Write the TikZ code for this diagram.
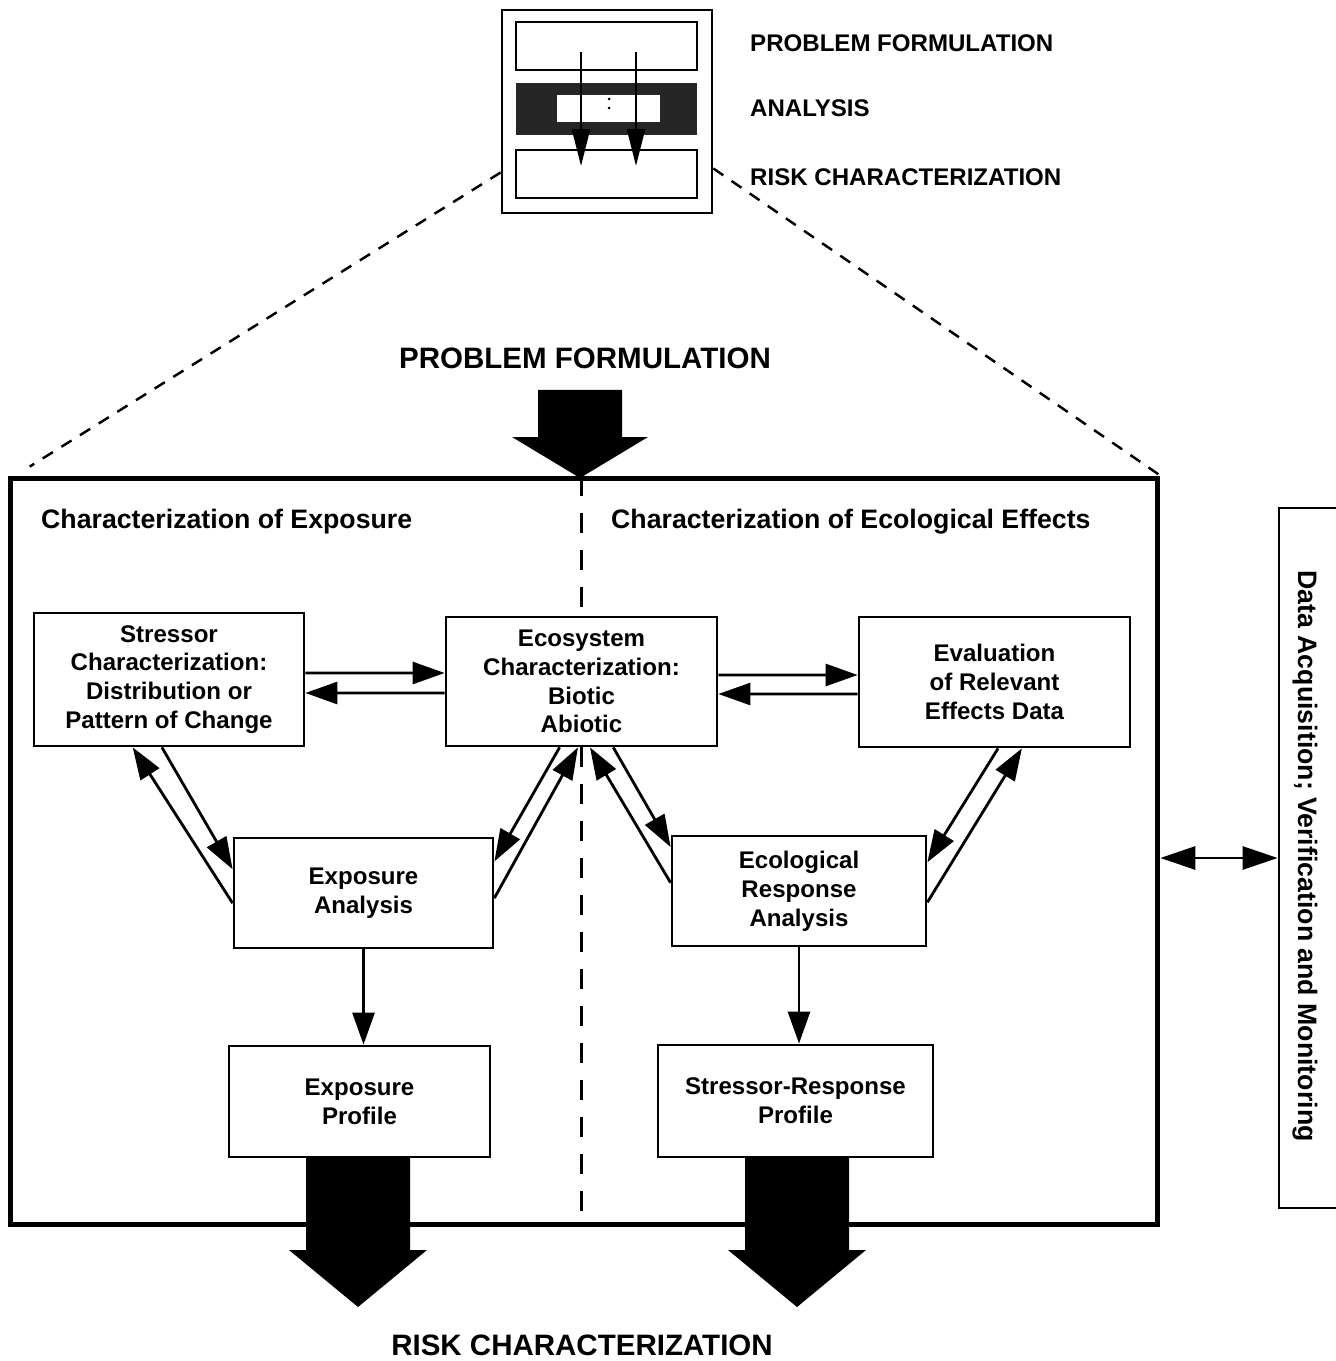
\documentclass[tikz,border=0pt]{standalone}
\usepackage{fontspec}
\setmainfont{Liberation Sans}
\usepackage{tikz}
\usetikzlibrary{calc}
\usetikzlibrary{arrows.meta}
\newcommand{\boxfont}{\fontsize{13.7}{16.4}\selectfont\bfseries}
\newcommand{\headfont}{\fontsize{15.2}{18}\selectfont\bfseries}
\newcommand{\titlefont}{\fontsize{16.8}{20}\selectfont\bfseries}
\newcommand{\procbox}[6]{\node[procbox,minimum width=#4cm,minimum height=#5cm] (#1) at (#2,#3) {#6};}
\newcommand{\bigdown}[6]{\fill (#1-#2,#4) -- (#1+#2,#4) -- (#1+#2,#5) -- (#1+#3,#5) -- (#1,#6) -- (#1-#3,#5) -- (#1-#2,#5) -- cycle;}
\tikzset{
  procbox/.style={draw,line width=1.6pt,inner sep=0pt,align=center,font=\boxfont},
  flow/.style={line width=1.6pt,-{Triangle[length=0.64cm,width=0.44cm]}},
  insetflow/.style={line width=1.5pt,-{Triangle[length=0.74cm,width=0.36cm]}},
  zoomline/.style={line width=1.4pt,dash pattern=on 0.24cm off 0.2cm},
  divider/.style={line width=1.5pt,dash pattern=on 0.4cm off 0.34cm},
}

\begin{document}
\begin{tikzpicture}[x=0.02cm,y=-0.02cm]
        \useasboundingbox (0,0) rectangle (1335,1361);

        % overview
        \node[draw,line width=1.6pt,minimum width=4.2cm,minimum height=4.06cm] (overview) at (607,111.5) {};
        \draw[line width=1.5pt] (516,22) rectangle (697,70);
        \fill[black!85] (516,83) rectangle (697,135);
        \fill[white] (557,95) rectangle (660,122);
        \draw[line width=1.5pt] (516,150) rectangle (697,198);
        \fill (609,99) circle[radius=0.03cm];
        \fill (609,108) circle[radius=0.03cm];
        \draw[insetflow] (581,52) -- (581,166);
        \draw[insetflow] (636,52) -- (636,166);

        \node[anchor=west,font=\boxfont] (pfstep) at (744,43) {PROBLEM FORMULATION};
        \node[anchor=west,font=\boxfont] (anstep) at (744,108) {ANALYSIS};
        \node[anchor=west,font=\boxfont] (rcstep) at (744,177) {RISK CHARACTERIZATION};

        % headings
        \node[font=\titlefont] (pf) at (585,358) {PROBLEM FORMULATION};
        \node[font=\titlefont] (rc) at (582,1345) {RISK CHARACTERIZATION};

        % analysis phase
        \node[draw,line width=2.8pt,minimum width=22.96cm,minimum height=14.94cm] (main) at (584,851.5) {};
        \node[anchor=west,font=\headfont] (exphead) at (35,522) {Characterization of Exposure};
        \node[anchor=west,font=\headfont] (effhead) at (605,522) {Characterization of Ecological Effects};

        % zoom lines
        \draw[zoomline] ($(overview.west)+(0,61)$) -- ($(main.north west)+(22,-9)$);
        \draw[zoomline] ($(overview.east)+(0,57)$) -- (main.north east);

        % boxes
        \procbox{stressor}{169}{679.5}{5.4}{2.66}{Stressor\\Characterization:\\Distribution or\\Pattern of Change}
        \procbox{eco}{581.5}{681.5}{5.42}{2.58}{Ecosystem\\Characterization:\\Biotic\\Abiotic}
        \procbox{eval}{994.5}{682}{5.42}{2.6}{Evaluation\\of Relevant\\Effects Data}
        \procbox{expo}{363.5}{893}{5.18}{2.2}{Exposure\\Analysis}
        \procbox{resp}{799}{891}{5.08}{2.2}{Ecological\\Response\\Analysis}
        \procbox{profile}{359.5}{1101.5}{5.22}{2.22}{Exposure\\Profile}
        \procbox{srprofile}{795.5}{1101}{5.5}{2.24}{Stressor-Response\\Profile}

        % divider
        \draw[divider] (eco.north |- main.north) -- (eco.north);
        \draw[divider] (eco.south) -- (eco.south |- main.south);

        % arrows
        \draw[flow] ([yshift=0.13cm]stressor.east) -- ([yshift=0.17cm]eco.west);
        \draw[flow] ([yshift=-0.23cm]eco.west) -- ([yshift=-0.27cm]stressor.east);
        \draw[flow] ([yshift=0.13cm]eco.east) -- ([yshift=0.14cm]eval.west);
        \draw[flow] ([yshift=-0.24cm]eval.west) -- ([yshift=-0.25cm]eco.east);

        \draw[flow] ($(expo.north west)!0.59!(expo.south west)$) -- ($(stressor.south west)!0.367!(stressor.south east)$);
        \draw[flow] ($(stressor.south west)!0.474!(stressor.south east)$) -- ($(expo.north west)!0.29!(expo.south west)$);
        \draw[flow] ($(eco.south west)!0.42!(eco.south east)$) -- ($(expo.north east)!0.22!(expo.south east)$);
        \draw[flow] ($(expo.north east)!0.545!(expo.south east)$) -- ($(eco.south west)!0.487!(eco.south east)$);
        \draw[flow] ($(resp.north west)!0.427!(resp.south west)$) -- ($(eco.south west)!0.531!(eco.south east)$);
        \draw[flow] ($(eco.south west)!0.616!(eco.south east)$) -- ($(resp.north west)!0.11!(resp.south west)$);
        \draw[flow] ($(eval.south west)!0.513!(eval.south east)$) -- ($(resp.north east)!0.245!(resp.south east)$);
        \draw[flow] ($(resp.north east)!0.6!(resp.south east)$) -- ($(eval.south west)!0.6!(eval.south east)$);

        \draw[flow] (expo.south) -- (expo.south |- profile.north);
        \draw[flow] (resp.south) -- (resp.south |- srprofile.north);

        % data acquisition
        \node[draw,line width=1.6pt,minimum width=1.22cm,minimum height=14cm] (data) at (1309.5,858) {};
        \node[rotate=-90,font=\headfont] (datalabel) at (1305,856) {Data Acquisition; Verification and Monitoring};
        \draw[line width=1.6pt,{Triangle[length=0.7cm,width=0.46cm]}-{Triangle[length=0.7cm,width=0.46cm]}] (data.west -| main.east) -- (data.west);

        % big arrows
        \bigdown{580}{42}{68}{390}{437}{478}
        \bigdown{358}{52}{69}{1157}{1250}{1307}
        \bigdown{797}{52}{69}{1157}{1250}{1307}

\end{tikzpicture}
\end{document}
